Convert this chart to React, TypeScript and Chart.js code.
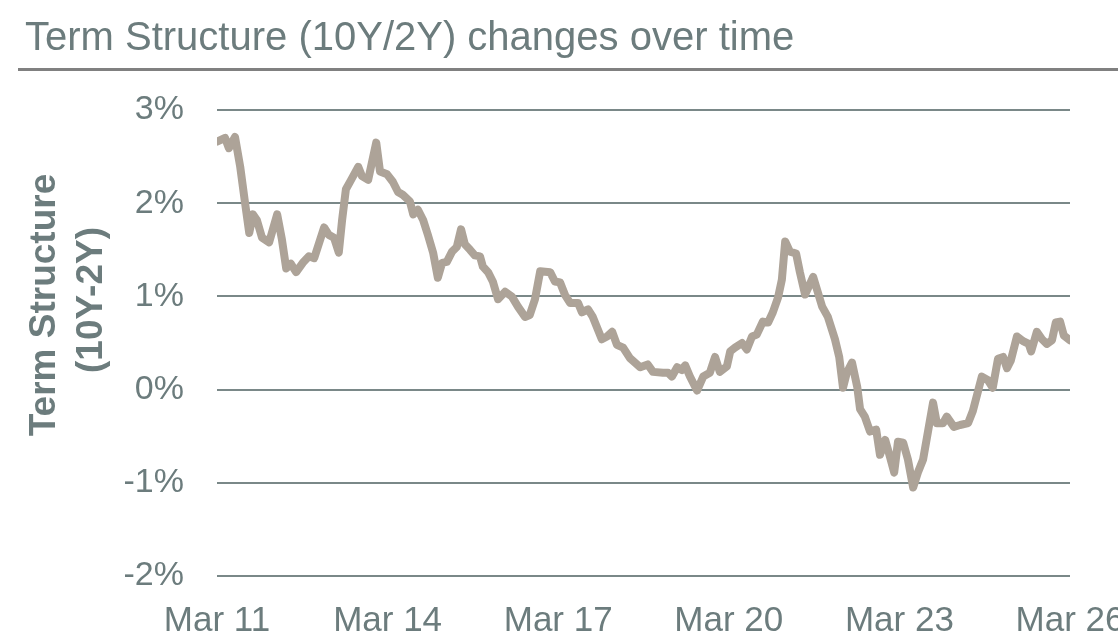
import React, { useEffect, useRef } from "react";
import { Chart, registerables } from "chart.js";

Chart.register(...registerables);

// Months since Mar 2011
const monthIndex = [
  0, 1.7, 2.5, 3.8, 4.9, 5.9, 6.8, 7.6, 8.4, 9.5, 11.0, 12.7, 13.7, 14.6, 15.6, 16.7, 18.1, 19.4, 20.5,
  22.6, 23.6, 24.7, 25.7, 26.4, 27.2, 28.3, 29.8, 30.6, 31.9, 33.6, 34.4, 35.9, 37.1, 38.2, 39.2, 40.7,
  41.4, 42.4, 43.5, 44.5, 45.6, 46.6, 47.5, 48.5, 49.6, 50.6, 51.5, 52.3, 53.4, 54.4, 55.5, 56.1, 57.2,
  58.2, 59.3, 60.8, 62.2, 63.5, 65.0, 66.0, 67.1, 68.2, 70.3, 71.3, 72.4, 73.4, 74.5, 76.2, 77.0, 78.3,
  79.3, 81.2, 82.3, 83.4, 84.4, 85.7, 87.1, 89.3, 90.9, 92.0, 94.1, 95.2, 96.0, 97.1, 98.1, 98.8, 99.8,
  101.3, 102.6, 104.0, 105.1, 106.1, 107.6, 108.3, 109.3, 110.8, 111.8, 112.9, 113.9, 115.2, 116.3,
  117.3, 118.4, 119.2, 119.9, 120.9, 122.2, 123.0, 124.1, 125.8, 127.7, 128.9, 130.4, 131.3, 132.1,
  132.9, 134.0, 135.1, 135.7, 136.7, 137.8, 139.1, 139.9, 141.0, 142.0, 142.9, 143.7, 144.8, 145.8,
  146.9, 147.9, 149.0, 150.0, 151.1, 151.9, 153.2, 154.0, 155.5, 156.8, 158.5, 159.5, 161.4, 162.7,
  163.7, 164.8, 165.9, 166.7, 167.5, 168.8, 170.1, 171.3, 171.8, 173.0, 174.1, 175.1, 176.2, 177.0,
  177.9, 178.7, 180.0,
];

// 10Y - 2Y spread, %
const spreadPct = [
  2.66, 2.70, 2.59, 2.71, 2.39, 2.01, 1.68, 1.88, 1.82, 1.63, 1.58, 1.88, 1.61, 1.30, 1.35, 1.26, 1.36, 1.43, 1.41,
  1.74, 1.66, 1.63, 1.47, 1.82, 2.15, 2.25, 2.39, 2.29, 2.25, 2.65, 2.34, 2.31, 2.23, 2.12, 2.09, 2.02,
  1.88, 1.93, 1.82, 1.66, 1.47, 1.20, 1.36, 1.37, 1.48, 1.53, 1.72, 1.56, 1.50, 1.44, 1.43, 1.32, 1.26,
  1.16, 0.97, 1.05, 1.00, 0.89, 0.78, 0.80, 0.97, 1.27, 1.26, 1.16, 1.15, 1.02, 0.93, 0.93, 0.83, 0.86,
  0.78, 0.54, 0.57, 0.62, 0.48, 0.45, 0.34, 0.24, 0.27, 0.19, 0.18, 0.18, 0.14, 0.24, 0.21, 0.26, 0.14,
  -0.01, 0.14, 0.18, 0.35, 0.19, 0.25, 0.41, 0.45, 0.50, 0.43, 0.57, 0.59, 0.73, 0.72,
  0.83, 0.99, 1.18, 1.59, 1.48, 1.46, 1.26, 1.02, 1.21, 0.89, 0.78, 0.54, 0.35, 0.02,
  0.18, 0.29, 0.03, -0.21, -0.29, -0.45, -0.43, -0.70, -0.54, -0.72, -0.89, -0.56, -0.57, -0.75,
  -1.05, -0.89, -0.75, -0.46, -0.14, -0.36, -0.36, -0.29, -0.40, -0.38, -0.36, -0.23, 0.14, 0.10,
  0.02, 0.33, 0.35, 0.23, 0.31, 0.57, 0.52, 0.49, 0.41, 0.62, 0.54, 0.49, 0.53, 0.72,
  0.73, 0.58, 0.53,
];

const tickMonths = [0, 36, 72, 108, 144, 180];
const tickLabels = ["Mar 11", "Mar 14", "Mar 17", "Mar 20", "Mar 23", "Mar 26"];

const TEXT = "#6c7c7d";
const FONT = "'Liberation Sans', Arial, sans-serif";

export default function App() {
  const ref = useRef<HTMLCanvasElement | null>(null);

  useEffect(() => {
    if (!ref.current) return;
    const yTitle = {
      id: "yTitle",
      afterDraw(chart: any) {
        const ctx = chart.ctx;
        ctx.save();
        ctx.translate(45, 305);
        ctx.rotate(-Math.PI / 2);
        ctx.fillStyle = TEXT;
        ctx.font = `bold 37px ${FONT}`;
        ctx.textAlign = "center";
        ctx.textBaseline = "middle";
        ctx.fillText("Term Structure", 0, 0);
        ctx.fillText("(10Y-2Y)", 5, 47);
        ctx.restore();
      },
    };
    const chart = new Chart(ref.current, {
      type: "line",
      data: {
        datasets: [
          {
            data: monthIndex.map((m, i) => ({ x: m, y: spreadPct[i] })),
            borderColor: "#ada398",
            borderWidth: 8,
            pointRadius: 0,
            tension: 0,
            borderJoinStyle: "round",
            borderCapStyle: "round",
            fill: false,
          },
        ],
      },
      options: {
        animation: false,
        responsive: false,
        devicePixelRatio: 1,
        layout: { padding: { top: 110, right: 48, bottom: 0, left: 0 } },
        plugins: { legend: { display: false }, tooltip: { enabled: false } },
        scales: {
          x: {
            type: "linear",
            min: 0,
            max: 180,
            grid: { display: false, drawTicks: false },
            border: { display: false },
            afterBuildTicks: (s: any) => {
              s.ticks = tickMonths.map((v) => ({ value: v }));
            },
            afterFit: (s: any) => {
              s.paddingLeft = 0;
              s.paddingRight = 0;
              s.height = 63;
            },
            ticks: {
              autoSkip: false,
              maxRotation: 0,
              padding: 24,
              color: TEXT,
              font: { family: FONT, size: 35 },
              callback: (v: any) => {
                const i = tickMonths.indexOf(Number(v));
                return i >= 0 ? tickLabels[i] : "";
              },
            },
          },
          y: {
            min: -2,
            max: 3,
            grid: { color: "#7a8888", lineWidth: 2, drawTicks: false },
            border: { display: false },
            afterFit: (s: any) => {
              s.width = 217;
              s.paddingTop = 0;
              s.paddingBottom = 0;
            },
            ticks: {
              stepSize: 1,
              padding: 33,
              color: TEXT,
              font: { family: FONT, size: 34 },
              callback: (v: any) => `${v}%`,
            },
          },
        },
      },
      plugins: [yTitle],
    });
    return () => chart.destroy();
  }, []);

  return (
    <div style={{ position: "fixed", left: 0, top: 0, width: 1118, height: 639, background: "#fff", overflow: "hidden" }}>
      <canvas ref={ref} width={1118} height={639} style={{ position: "absolute", left: 0, top: 0, width: 1118, height: 639 }} />
      <div
        style={{
          position: "absolute",
          left: 25,
          top: 16,
          fontFamily: FONT,
          fontSize: 40,
          lineHeight: "40px",
          color: TEXT,
          whiteSpace: "nowrap",
        }}
      >
        Term Structure (10Y/2Y) changes over time
      </div>
      <div style={{ position: "absolute", left: 18, top: 68, width: 1100, height: 3, background: "#808080" }} />
    </div>
  );
}
